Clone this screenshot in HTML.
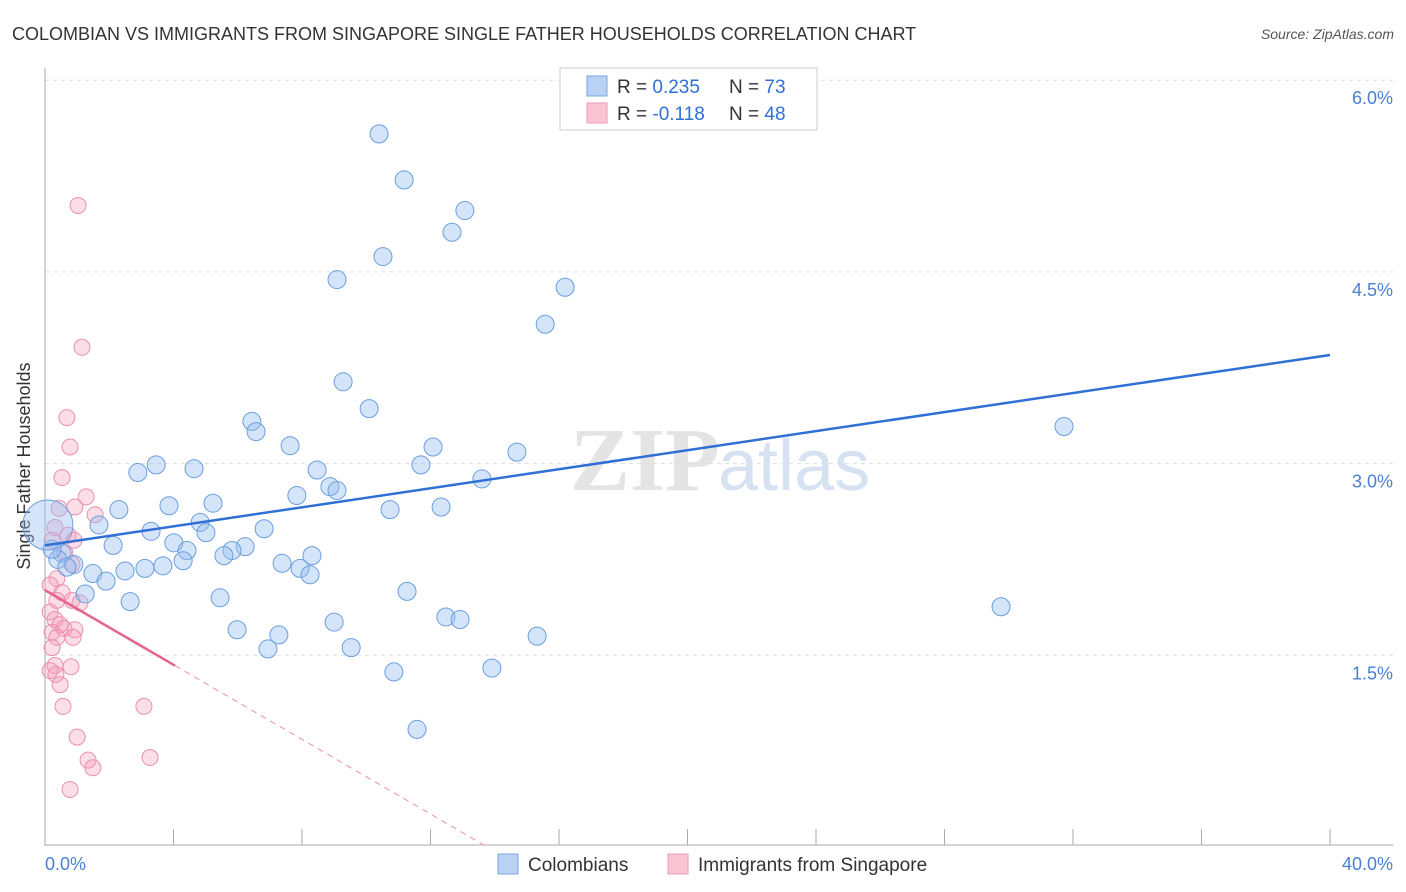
<!DOCTYPE html>
<html><head><meta charset="utf-8"><style>
body{margin:0;background:#fff;font-family:"Liberation Sans",sans-serif;}
svg{display:block}
</style></head><body>
<svg width="1406" height="892" id="chart">
<text x="12" y="40" font-size="18" fill="#333">COLOMBIAN VS IMMIGRANTS FROM SINGAPORE SINGLE FATHER HOUSEHOLDS CORRELATION CHART</text>
<text x="1394" y="39" font-size="14" fill="#555" font-style="italic" text-anchor="end">Source: ZipAtlas.com</text>
<text x="720" y="490" font-size="90" fill="#e4e4e4" text-anchor="end" font-family="Liberation Serif,serif" font-weight="bold">ZIP</text>
<text x="718" y="490" font-size="72" fill="#d6e2f2">atlas</text>
<g id="grid"></g>
<line x1="45" y1="68" x2="45" y2="846" stroke="#aaa"/>
<line x1="45" y1="845" x2="1393" y2="845" stroke="#aaa"/>
<text x="20" y="456" font-size="18" fill="#333" text-anchor="middle" transform="rotate(-90 30 456)">Single Father Households</text>
<text x="45" y="870" font-size="18" fill="#4a7fd4">0.0%</text>
<text x="1393" y="870" font-size="18" fill="#4a7fd4" text-anchor="end">40.0%</text>
<g id="marks"></g>
<g>
<rect x="560" y="68" width="257" height="62" fill="#fff" stroke="#ccc"/>
<rect x="587" y="76" width="20" height="20" fill="#b9d2f3" stroke="#7aa7e3"/>
<rect x="587" y="103" width="20" height="20" fill="#f9c5d5" stroke="#ee9ab5"/>
<text x="617" y="93" font-size="19" fill="#333">R = <tspan fill="#2f6fd6">0.235</tspan><tspan x="729">N = </tspan><tspan fill="#2f6fd6">73</tspan></text>
<text x="617" y="120" font-size="19" fill="#333">R = <tspan fill="#2f6fd6">-0.118</tspan><tspan x="729">N = </tspan><tspan fill="#2f6fd6">48</tspan></text>
</g>
<g>
<rect x="498" y="854" width="20" height="20" fill="#b9d2f3" stroke="#7aa7e3"/>
<text x="528" y="871" font-size="19" fill="#333">Colombians</text>
<rect x="668" y="854" width="20" height="20" fill="#f9c5d5" stroke="#ee9ab5"/>
<text x="698" y="871" font-size="19" fill="#333">Immigrants from Singapore</text>
</g>
</svg>
<script>
const yTicks=[1.5,3.0,4.5,6.0];
const yTickLabels=["1.5%","3.0%","4.5%","6.0%"];
const xTicks=[4,8,12,16,20,24,28,32,36,40];
const blueX=[10.40,11.18,13.07,12.67,10.52,9.09,16.19,15.57,9.28,10.09,31.72,6.44,6.57,7.63,12.08,14.69,3.46,2.89,4.64,8.47,11.70,13.60,8.87,9.09,7.84,5.23,3.86,2.30,10.74,12.33,1.68,4.83,6.82,3.30,5.01,4.01,2.12,6.23,4.42,5.82,5.57,0.53,0.40,0.90,0.68,4.30,8.31,7.38,3.67,3.11,2.49,7.94,1.49,8.25,1.90,11.27,1.25,2.65,5.45,29.76,12.48,12.92,9.00,5.98,15.32,7.28,9.53,6.94,13.91,10.86,11.58,0.22,0.09];
const blueY=[5.58,5.22,4.98,4.81,4.62,4.44,4.38,4.09,3.64,3.43,3.29,3.33,3.25,3.14,3.13,3.09,2.99,2.93,2.96,2.95,2.99,2.88,2.82,2.79,2.75,2.69,2.67,2.64,2.64,2.66,2.52,2.54,2.49,2.47,2.46,2.38,2.36,2.35,2.32,2.32,2.28,2.30,2.25,2.21,2.19,2.24,2.28,2.22,2.20,2.18,2.16,2.18,2.14,2.13,2.08,2.00,1.98,1.92,1.95,1.88,1.80,1.78,1.76,1.70,1.65,1.66,1.56,1.55,1.40,1.37,0.92,2.33,2.52];
const pinkX=[1.03,1.15,0.68,0.78,0.53,1.28,0.44,0.93,1.56,0.31,0.72,0.90,0.22,0.62,0.84,0.37,0.16,0.53,0.84,1.09,0.16,0.31,0.47,0.22,0.59,0.93,0.37,0.87,0.22,0.31,0.81,0.34,0.47,0.56,3.08,1.00,1.34,1.49,3.27,0.78,0.37,0.16];
const pinkY=[5.02,3.91,3.36,3.13,2.89,2.74,2.65,2.66,2.60,2.50,2.44,2.40,2.40,2.30,2.21,2.10,2.05,1.99,1.93,1.91,1.84,1.78,1.74,1.68,1.71,1.70,1.64,1.64,1.56,1.42,1.41,1.35,1.27,1.10,1.10,0.86,0.68,0.62,0.70,0.45,1.93,1.38];
const blueTrend=[2.36,3.85]; // y at x=0 and x=40
const pinkTrend=[2.01,-0.146]; // intercept, slope
const pinkSolidEnd=4.05;
const sx=v=>45+v/40*1285;
const sy=v=>847-v/1.5*191.7;
const NS="http://www.w3.org/2000/svg";
function mk(tag,attrs,parent){const e=document.createElementNS(NS,tag);for(const k in attrs)e.setAttribute(k,attrs[k]);parent.appendChild(e);return e;}
const grid=document.getElementById('grid');
yTicks.forEach((t,i)=>{
  const l=mk('line',{x1:45,x2:1393,y1:sy(t),y2:sy(t),stroke:'#ddd','stroke-dasharray':'4,4'},grid);
  
  
  const tx=mk('text',{x:1393,y:sy(t)+24,'font-size':18,fill:'#4a7fd4','text-anchor':'end'},grid);
  tx.textContent=yTickLabels[i];
  
  
});
xTicks.forEach(t=>{
  const l=mk('line',{x1:sx(t),x2:sx(t),y1:829,y2:845,stroke:'#aaa'},grid);
  
  
});
const marks=document.getElementById('marks');
pinkX.forEach((x,i)=>{
  const c=mk('circle',{cx:sx(x),cy:sy(pinkY[i]),r:8,fill:'rgba(244,160,190,0.35)',stroke:'#ec8fae','stroke-width':1},marks);
  
  
});
blueX.forEach((x,i)=>{
  const big=i===blueX.length-1;
  const c=mk('circle',{cx:sx(x),cy:sy(blueY[i]),r:big?25:9,fill:'rgba(150,190,240,0.4)',stroke:'#6a9ee0','stroke-width':1},marks);
  
  
});
const bl=mk('line',{x1:sx(0),y1:sy(blueTrend[0]),x2:sx(40),y2:sy(blueTrend[1]),stroke:'#2f6fd6','stroke-width':2.5},marks);


const pEnd=-pinkTrend[0]/pinkTrend[1];
const pd=mk('line',{x1:sx(pinkSolidEnd),y1:sy(pinkTrend[0]+pinkTrend[1]*pinkSolidEnd),x2:sx(pEnd),y2:sy(0),stroke:'#ec8fae','stroke-width':1,'stroke-dasharray':'6,5'},marks);


const ps=mk('line',{x1:sx(0),y1:sy(pinkTrend[0]),x2:sx(pinkSolidEnd),y2:sy(pinkTrend[0]+pinkTrend[1]*pinkSolidEnd),stroke:'#e5648f','stroke-width':2.5},marks);


</script>
</body></html>
